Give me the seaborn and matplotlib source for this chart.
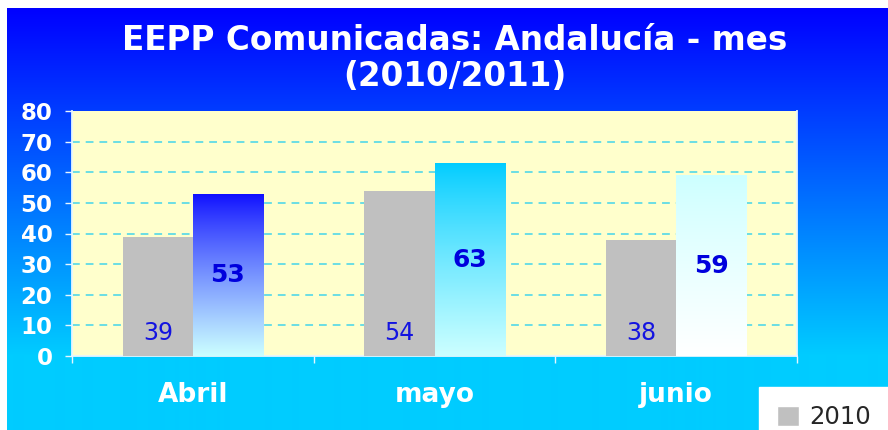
import numpy as np
import pandas as pd
import matplotlib
matplotlib.use("Agg")
import matplotlib.pyplot as plt
import matplotlib.patches as mpatches
import seaborn as sns

# datos
meses = ["Abril", "mayo", "junio"]
anios = ["2010", "2011"]
valores_2010 = [39, 54, 38]
valores_2011 = [53, 63, 59]

# colores
GRIS_BARRA = "#c0c0c0"
CIAN_CLARO = "#ccffff"
FONDO_PLOT = "#ffffcc"
REJILLA = "#5fdbe6"
BORDE = "#e6f6ff"
AZUL_ETQ = "#1414e0"
AZUL_BOLD = "#0000dd"
# degradado (arriba, abajo) de cada barra 2011
degradados = [((0.05, 0.05, 1.0), (0.80, 1.0, 1.0)),
              ((0.0, 0.80, 1.0), (0.80, 1.0, 1.0)),
              ((0.80, 1.0, 1.0), (1.0, 1.0, 1.0))]

sns.set_style("white")
plt.rcParams["font.family"] = ["DejaVu Sans"]

df = pd.DataFrame({
    "mes": meses * 2,
    "anio": [anios[0]] * 3 + [anios[1]] * 3,
    "valor": valores_2010 + valores_2011,
})

W, H = 888, 430
fig = plt.figure(figsize=(W / 100, H / 100), dpi=100)
fig.patch.set_facecolor("white")

# fondo con degradado azul -> cian
bg = fig.add_axes([7 / W, 0, 1 - 7 / W, 1 - 8 / H])
bg.axis("off")
filas = np.arange(8, H)
t = np.clip((filas - 8) / (355 - 8), 0, 1)
grad = np.zeros((len(filas), 1, 3))
grad[:, 0, 1] = 0.8 * t
grad[:, 0, 2] = 1.0
bg.imshow(grad, aspect="auto", extent=[0, 1, 0, 1], interpolation="bilinear")

ax = fig.add_axes([72 / W, 1 - 356 / H, 725 / W, 245 / H])
ax.set_zorder(2)
ax.set_facecolor(FONDO_PLOT)

sns.barplot(data=df, x="mes", y="valor", hue="anio",
            palette=[GRIS_BARRA, CIAN_CLARO], width=0.58, saturation=1,
            errorbar=None, legend=False, ax=ax, zorder=3,
            linewidth=0, edgecolor="none")

# degradado en barras 2011
for patch, (arriba, abajo) in zip(ax.containers[1].patches, degradados):
    x0, y0 = patch.get_x(), patch.get_y()
    w, h = patch.get_width(), patch.get_height()
    s = np.linspace(0, 1, 256) ** 0.85
    g = (np.array(arriba)[None, :] * (1 - s[:, None]) +
         np.array(abajo)[None, :] * s[:, None])[:, None, :]
    im = ax.imshow(g, extent=[x0, x0 + w, y0, y0 + h], aspect="auto",
                   origin="upper", interpolation="bilinear", zorder=3.5)
    im.set_clip_path(patch)

ax.set_xlim(-0.5, 2.5)
ax.set_ylim(0, 80)

# etiquetas de valores
for patch, v in zip(ax.containers[0].patches, valores_2010):
    ax.annotate(str(v), (patch.get_x() + patch.get_width() / 2, 0),
                xytext=(0, 16.5), textcoords="offset points",
                ha="center", va="center", fontsize=17, color=AZUL_ETQ, zorder=5)
for patch, v in zip(ax.containers[1].patches, valores_2011):
    ax.text(patch.get_x() + patch.get_width() / 2, v / 2, str(v),
            ha="center", va="center", fontsize=18, fontweight="bold",
            color=AZUL_BOLD, zorder=5)

# ejes
ax.set_xlabel("")
ax.set_ylabel("")
ax.set_yticks(range(0, 81, 10))
ax.set_yticklabels([str(v) for v in range(0, 81, 10)],
                   fontsize=16.5, fontweight="bold", color="white")
ax.tick_params(axis="y", left=True, direction="out", length=5, width=1,
               color=BORDE, pad=9)
ax.set_xticks(range(len(meses)))
ax.set_xticklabels(meses, fontsize=19, fontweight="bold", color="white")
ax.tick_params(axis="x", which="major", length=0, pad=19)
ax.set_xticks([-0.5, 0.5, 1.5, 2.5], minor=True)
ax.tick_params(axis="x", which="minor", bottom=True, direction="out",
               length=5, width=1, color=BORDE)

ax.yaxis.grid(True, color=REJILLA, linestyle=(0, (4.3, 3.3)), linewidth=1.3)
ax.set_axisbelow(True)
lineas = ax.get_ygridlines()
lineas[0].set_visible(False)
lineas[-1].set_visible(False)

for lado in ["left", "bottom", "right"]:
    ax.spines[lado].set_color(BORDE)
    ax.spines[lado].set_linewidth(1.3)
ax.spines["top"].set_visible(False)

# titulo
fig.text(455 / W, 1 - 41 / H, "EEPP Comunicadas: Andalucía - mes",
         ha="center", va="center", fontsize=23.5, fontweight="bold", color="white")
fig.text(455 / W, 1 - 77 / H, "(2010/2011)",
         ha="center", va="center", fontsize=23.5, fontweight="bold", color="white")

# leyenda: solo se ve la primera entrada, el resto queda fuera del lienzo
handles = [mpatches.Patch(facecolor=GRIS_BARRA)]
leg = fig.legend(handles, anios[:1], loc="upper left",
                 bbox_to_anchor=(759 / W, 1 - 387 / H), fontsize=17.5,
                 frameon=True, fancybox=False, borderpad=0.75, borderaxespad=0,
                 handlelength=0.9, handleheight=0.9, handletextpad=0.4)
leg.get_frame().set_facecolor("white")
leg.get_frame().set_edgecolor("white")
leg.get_frame().set_alpha(1)

fig.savefig("out.png", dpi=100)
